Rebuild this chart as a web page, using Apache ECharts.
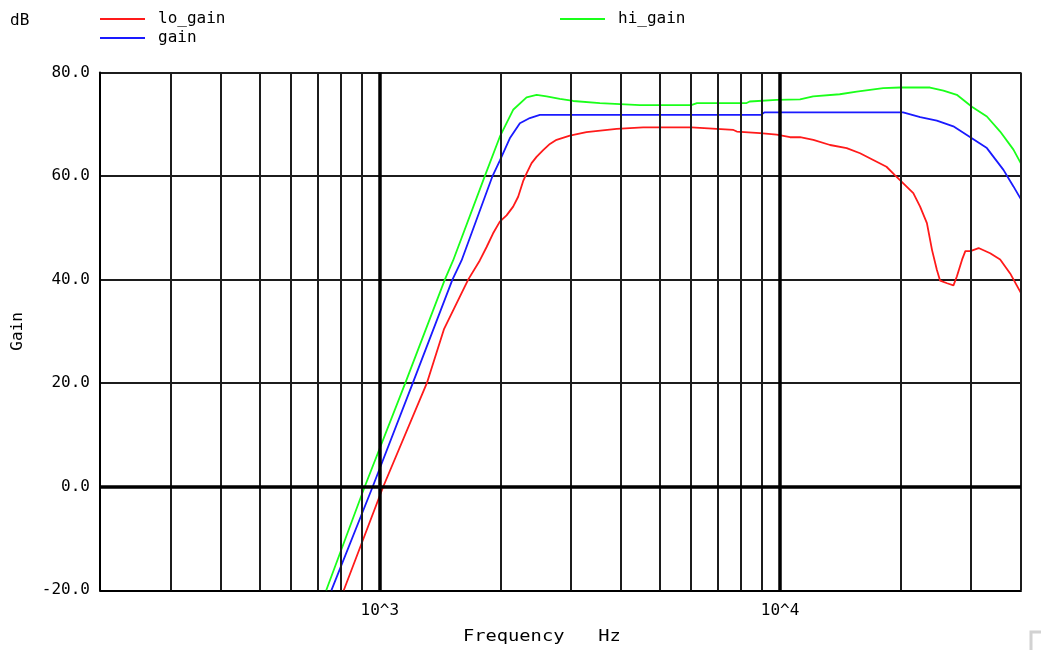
<!DOCTYPE html>
<html>
<head>
<meta charset="utf-8">
<title>Gain vs Frequency</title>
<script src="https://cdn.jsdelivr.net/npm/echarts@6/dist/echarts.min.js"></script>
<style>
  html, body { margin: 0; padding: 0; background: #ffffff; }
  #chart { width: 1041px; height: 650px; }
</style>
</head>
<body>
<div id="chart"></div>
<script>
// Frequency response of the three gain settings: [frequency (Hz), gain (dB)]
const loGain = [
  [813, -20], [1020, 0], [1311, 20], [1448, 30.5], [1663, 40], [1778, 43.7],
  [1849, 46.3], [1918, 48.9], [1995, 51.2], [2074, 52.4], [2154, 54.1],
  [2217, 56], [2281, 59], [2327, 60.5], [2395, 62.5], [2464, 63.7],
  [2560, 65], [2661, 66.2], [2765, 67], [2985, 67.8], [3283, 68.5],
  [3906, 69.1], [4551, 69.4], [6012, 69.4], [6073, 69.1], [7650, 68.9],
  [7800, 68.6], [8913, 68.3], [9813, 68], [10593, 67.5], [11220, 67.5],
  [12115, 67], [13335, 66], [14676, 65.4], [15849, 64.4], [17098, 63.1],
  [18449, 61.8], [19360, 60.2], [20324, 58.6], [21528, 56.7], [22387, 54.1],
  [23280, 50.9], [23980, 45.7], [24650, 41.9], [25119, 39.8], [26140, 39.3],
  [27123, 38.9], [27655, 40.6], [28510, 43.9], [29040, 45.5], [29900, 45.5],
  [31340, 46.1], [33500, 45.1], [35480, 43.9], [37580, 41.2], [40000, 37.4]
];
const gain = [
  [757, -20], [960, 0], [1209, 20], [1519, 40], [1601, 43.7], [1913, 60],
  [1995, 63], [2113, 67.3], [2239, 70.2], [2371, 71.2], [2512, 71.8],
  [8950, 71.8], [9150, 72.3], [20300, 72.3], [22400, 71.4], [24650, 70.7],
  [27100, 69.6], [30150, 67.3], [32870, 65.4], [36160, 61.2], [38300, 58],
  [40000, 55.5]
];
const hiGain = [
  [735, -20], [917, 0], [1158, 20], [1454, 40], [1525, 43.7], [1830, 60],
  [1995, 67.6], [2154, 72.8], [2327, 75.2], [2465, 75.7], [2611, 75.4],
  [2818, 74.9], [3043, 74.5], [3548, 74.1], [4467, 73.7], [6000, 73.7],
  [6200, 74.1], [8250, 74.1], [8400, 74.4], [9800, 74.7], [11220, 74.8],
  [12100, 75.4], [14100, 75.8], [15550, 76.3], [18100, 77], [19950, 77.1],
  [23700, 77.1], [25600, 76.5], [27650, 75.7], [30150, 73.4], [32870, 71.5],
  [35480, 68.6], [38300, 65.1], [40000, 62.4]
];

// Axis ranges and grid positions
const freqRange = [200, 40000];
const gainRange = [-20, 80];
const gainStep = 20;
const decadeLines = [1000, 10000];
const minorFreqLines = [300, 400, 500, 600, 700, 800, 900,
                        2000, 3000, 4000, 5000, 6000, 7000, 8000, 9000,
                        20000, 30000, 40000];
const zeroLine = [0];

const FONT = 'DejaVu Sans Mono';
const FS = 16;
const chart = echarts.init(document.getElementById('chart'), null, { renderer: 'canvas' });

const thin = { color: '#1c1c1c', width: 2, type: 'solid' };
const thick = { color: '#000000', width: 3.5, type: 'solid' };

function legendAt(name, left, top) {
  return {
    data: [name],
    left: left, top: top,
    icon: 'rect',
    itemWidth: 45, itemHeight: 2,
    itemGap: 0,
    padding: 0,
    selectedMode: false,
    textStyle: { fontFamily: FONT, fontSize: FS, color: '#000', padding: [3, 0, 0, 8] }
  };
}

chart.setOption({
  animation: false,
  backgroundColor: '#ffffff',
  grid: { left: 100, top: 72.5, width: 921, height: 517.8, containLabel: false },
  legend: [
    legendAt('lo_gain', 100, 11),
    legendAt('gain', 100, 30),
    legendAt('hi_gain', 560, 11)
  ],
  xAxis: {
    type: 'log',
    logBase: 10,
    min: freqRange[0],
    max: freqRange[1],
    axisLine: { show: true, onZero: false, lineStyle: { color: '#000', width: 2 } },
    axisTick: { show: false },
    splitLine: { show: false },
    minorTick: { show: false },
    axisLabel: {
      margin: 13,
      fontFamily: FONT, fontSize: FS, color: '#000',
      formatter: function (v) {
        const e = Math.log10(v);
        return Math.abs(e - Math.round(e)) < 1e-6 && v >= 1000 ? '10^' + Math.round(e) : '';
      }
    }
  },
  yAxis: {
    type: 'value',
    min: gainRange[0],
    max: gainRange[1],
    interval: gainStep,
    name: 'Gain',
    nameLocation: 'middle',
    nameGap: 74,
    nameTextStyle: { fontFamily: FONT, fontSize: FS, color: '#000' },
    axisLine: { show: true, lineStyle: { color: '#000', width: 2 } },
    axisTick: { show: false },
    splitLine: { show: true, lineStyle: thin },
    axisLabel: {
      margin: 10,
      fontFamily: FONT, fontSize: FS, color: '#000',
      formatter: function (v) { return v.toFixed(1); }
    }
  },
  graphic: [
    { type: 'text', left: 10, top: 13,
      style: { text: 'dB', font: FS + 'px "DejaVu Sans Mono"', fill: '#000' } },
    { type: 'text', left: 463, top: 629,
      style: { text: 'Frequency   Hz', font: FS + 'px "DejaVu Sans Mono"', fill: '#000' },
      scaleX: 1.17, originX: 0 },
    { type: 'polyline', silent: true,
      shape: { points: [[1031, 650], [1031, 632], [1041, 632]] },
      style: { stroke: '#d2d2d2', lineWidth: 3, fill: null } }
  ],
  series: [
    {
      name: 'grid',
      type: 'line',
      data: [],
      silent: true,
      z: 1,
      markLine: {
        silent: true,
        symbol: 'none',
        label: { show: false },
        animation: false,
        data: [
          ...minorFreqLines.map(f => ({ xAxis: f, lineStyle: thin })),
          ...decadeLines.map(f => ({ xAxis: f, lineStyle: thick })),
          ...zeroLine.map(g => ({ yAxis: g, lineStyle: thick }))
        ]
      }
    },
    {
      name: 'lo_gain', type: 'line', data: loGain, z: 3,
      showSymbol: false, symbol: 'none', smooth: false,
      color: '#ff1a1a', lineStyle: { width: 1.8, color: '#ff1a1a' }
    },
    {
      name: 'gain', type: 'line', data: gain, z: 3,
      showSymbol: false, symbol: 'none', smooth: false,
      color: '#1a1aff', lineStyle: { width: 1.8, color: '#1a1aff' }
    },
    {
      name: 'hi_gain', type: 'line', data: hiGain, z: 3,
      showSymbol: false, symbol: 'none', smooth: false,
      color: '#1aff1a', lineStyle: { width: 1.8, color: '#1aff1a' }
    }
  ]
});
</script>
</body>
</html>
